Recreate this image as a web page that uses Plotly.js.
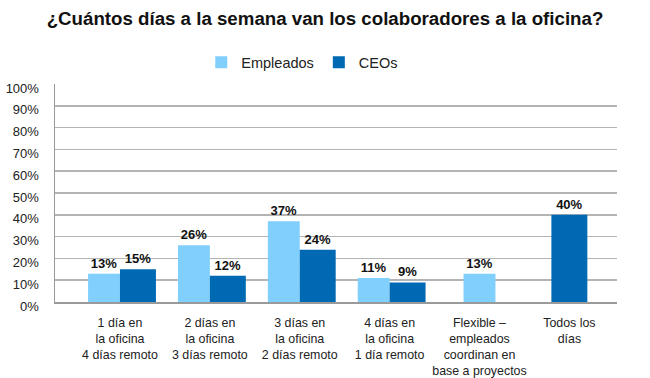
<!DOCTYPE html>
<html>
<head>
<meta charset="utf-8">
<script src="https://cdn.plot.ly/plotly-3.0.1.min.js"></script>
<style>html,body{margin:0;padding:0;background:#fff;}#chart{width:650px;height:378px;}</style>
</head>
<body>
<div id="chart"></div>
<script>
const categories = [
  "1 día en<br>la oficina<br>4 días remoto",
  "2 días en<br>la oficina<br>3 días remoto",
  "3 días en<br>la oficina<br>2 días remoto",
  "4 días en<br>la oficina<br>1 día remoto",
  "Flexible –<br>empleados<br>coordinan en<br>base a proyectos",
  "Todos los<br>días"
];
const empleados = [13, 26, 37, 11, 13, null];
const ceos = [15, 12, 24, 9, null, 40];
const yTickVals = [0,10,20,30,40,50,60,70,80,90,100];
const yTickText = ["0%","10%","20%","30%","40%","50%","60%","70%","80%","90%","100%"];

const wLight = 0.355, wDark = 0.40;
// offsets: paired bars sit side by side; a lone bar is centred on its category
const offLight = empleados.map((v, i) => ceos[i] == null ? -wLight / 2 : -wLight);
const offDark = ceos.map((v, i) => empleados[i] == null ? -wDark / 2 : 0);

const labelFont = {family: "Liberation Sans, Arial, sans-serif", size: 13, color: "#111", weight: "bold"};

const traces = [
  {
    type: "bar", name: "Empleados", x: categories, y: empleados,
    marker: {color: "#80CFFC"}, width: wLight, offset: offLight,
    text: empleados.map(v => v == null ? "" : v + "%"),
    textposition: "outside", textfont: labelFont, cliponaxis: false,
    hoverinfo: "skip"
  },
  {
    type: "bar", name: "CEOs", x: categories, y: ceos,
    marker: {color: "#0069B3"}, width: wDark, offset: offDark,
    text: ceos.map(v => v == null ? "" : v + "%"),
    textposition: "outside", textfont: labelFont, cliponaxis: false,
    hoverinfo: "skip"
  }
];

const layout = {
  width: 650, height: 378,
  margin: {l: 55, r: 33, t: 84, b: 76},
  paper_bgcolor: "#fff", plot_bgcolor: "#fff",
  font: {family: "Liberation Sans, Arial, sans-serif", size: 13, color: "#222"},
  title: {
    text: "¿Cuántos días a la semana van los colaboradores a la oficina?",
    x: 0.5, xanchor: "center", xref: "container",
    y: 0.952, yanchor: "middle", yref: "container",
    font: {family: "Liberation Sans, Arial, sans-serif", size: 18.7, color: "#111", weight: "bold"}
  },
  showlegend: true,
  legend: {
    orientation: "h", x: 0.44, xanchor: "center", y: 1.10, yanchor: "middle",
    font: {size: 14.5, color: "#222"}, traceorder: "normal", itemwidth: 30
  },
  barmode: "group",
  xaxis: {
    type: "category", range: [-0.723, 5.53],
    showgrid: false, showline: true, linecolor: "#9a9a9a", linewidth: 2,
    ticks: "", ticklabelstandoff: 8,
    tickfont: {size: 12.4, color: "#222"}, fixedrange: true
  },
  yaxis: {
    range: [0, 100], tickvals: yTickVals, ticktext: yTickText,
    showgrid: true, gridcolor: "#b4b4b4", gridwidth: 1.5,
    showline: true, linecolor: "#9a9a9a", linewidth: 1.5,
    zeroline: false, ticks: "", ticklen: 0,
    ticklabelstandoff: 12, ticklabelshift: 4,
    tickfont: {size: 13, color: "#222"}, fixedrange: true
  }
};

Plotly.newPlot("chart", traces, layout, {displayModeBar: false, staticPlot: true});
</script>
</body>
</html>
